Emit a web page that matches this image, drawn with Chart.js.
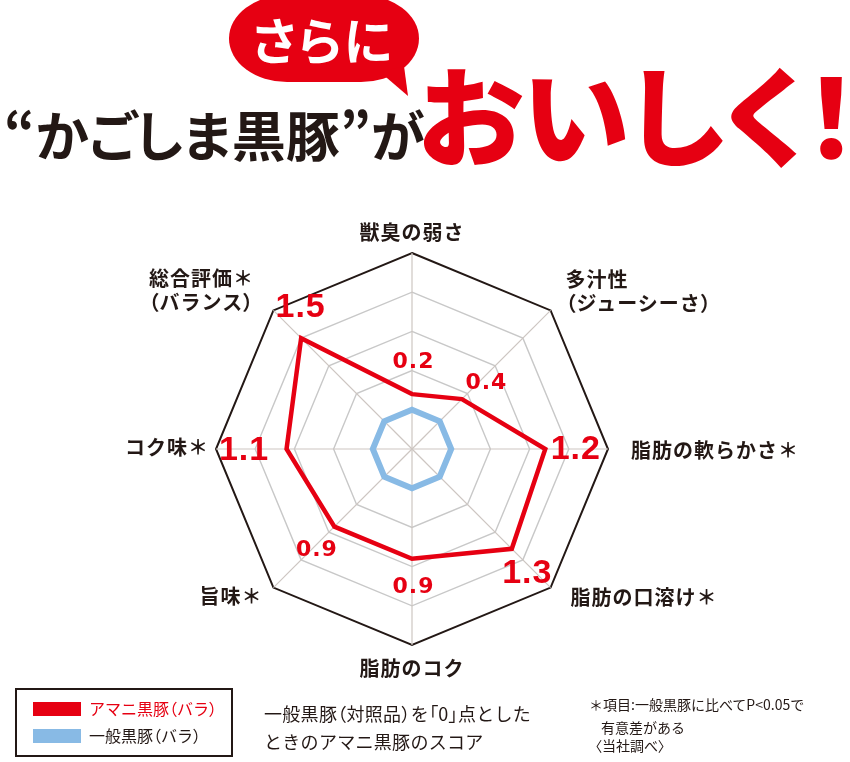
<!DOCTYPE html>
<html lang="ja"><head><meta charset="utf-8">
<script src="https://cdn.jsdelivr.net/npm/chart.js@4/dist/chart.umd.min.js"></script>
<style>
html,body{margin:0;padding:0;background:#fff;width:850px;height:762px;overflow:hidden;}
body{position:relative;font-family:'Noto Sans CJK JP','Noto Sans',sans-serif;color:#231815;}
#c{position:absolute;left:0;top:0;}
.abs{position:absolute;white-space:nowrap;line-height:1;}
.p{font-feature-settings:"palt";}
.axlab{position:absolute;white-space:nowrap;font-size:20px;font-weight:700;letter-spacing:1px;line-height:24px;color:#231815;}
</style></head><body>
<canvas id="c" width="850" height="762"></canvas>

<div class="abs" style="left:229px;top:-5px;width:190px;height:87px;background:#E60012;border-radius:64px/48px;"></div>
<div class="abs" style="left:370px;top:60px;width:45px;height:40px;background:#E60012;clip-path:polygon(10px 12px,34px 6px,38px 36px);"></div>
<div class="abs p" id="sarani" style="left:252px;top:13px;font-size:50px;font-weight:700;color:#fff;letter-spacing:2px;"></div>
<div class="abs p" id="title1" style="left:4px;top:107px;font-size:54px;font-weight:700;color:#231815;"></div>
<div class="abs p" id="title2" style="left:418px;top:57px;font-size:108px;font-weight:900;color:#E60012;"></div>

<div class="abs" style="left:15px;top:688px;width:214px;height:65px;border:2px solid #231815;"></div>
<div id="legend"></div>
<div class="abs" id="mid1" style="left:264px;top:704px;font-size:18px;letter-spacing:0.3px;"></div>
<div class="abs" id="mid2" style="left:264px;top:732px;font-size:18px;letter-spacing:0.3px;"></div>
<div class="abs" id="note1" style="left:589px;top:697px;font-size:14px;"></div>
<div class="abs" id="note2" style="left:601px;top:720px;font-size:14px;"></div>
<div class="abs" id="note3" style="left:595px;top:738px;font-size:14px;"></div>

<script>
// ---- data ----
const categories = ['獣臭の弱さ', '多汁性\n（ジューシーさ）', '脂肪の軟らかさ＊', '脂肪の口溶け＊', '脂肪のコク', '旨味＊', 'コク味＊', '総合評価＊\n（バランス）'];
const amaniValues = [0.2, 0.4, 1.2, 1.3, 0.9, 0.9, 1.1, 1.5];
const ippanValues = [0, 0, 0, 0, 0, 0, 0, 0];
const seriesNames = ['アマニ黒豚（バラ）', '一般黒豚（バラ）'];
const scaleMin = -0.5;
const scaleMax = 2.0;
const scaleStep = 0.5;

// ---- texts ----
const titleBubble = 'さらに';
const titleMain = '“かごしま黒豚”が';
const titleAccent = 'おいしく！';
const captionLines = ['一般黒豚（対照品）を「0」点とした', 'ときのアマニ黒豚のスコア'];
const noteLines = ['＊項目:一般黒豚に比べてP<0.05で', '有意差がある', '〈当社調べ〉'];

// ---- styling / layout ----
const RED = '#E60012';
const BLUE = '#88BAE5';
const axisLabelPlace = [
  {dx: 0, dy: -21, align: 'center'},
  {dx: 15, dy: -19, align: 'left'},
  {dx: 23, dy: 1, align: 'left'},
  {dx: 20, dy: 9, align: 'left'},
  {dx: 0, dy: 23, align: 'center'},
  {dx: -11, dy: 8, align: 'right'},
  {dx: -7, dy: -2, align: 'right'},
  {dx: -72, dy: -20, align: 'center'}
];
const valueLabelShift = [[1, -34], [24, -18], [30, -2], [15, 22], [1, 26], [-18, 21], [-43, -1], [-1, -33]];

function wrapParens(s) {
  return s.replace(/([（）「」〈〉“”])/g, '<span class="p">$1</span>');
}

document.getElementById('sarani').textContent = titleBubble;
document.getElementById('title1').textContent = titleMain;
document.getElementById('title2').textContent = titleAccent;
document.getElementById('mid1').innerHTML = wrapParens(captionLines[0]);
document.getElementById('mid2').innerHTML = wrapParens(captionLines[1]);
document.getElementById('note1').innerHTML = wrapParens(noteLines[0]);
document.getElementById('note2').innerHTML = wrapParens(noteLines[1]);
document.getElementById('note3').innerHTML = wrapParens(noteLines[2]);

// legend (HTML, built from series)
(function () {
  const lg = document.getElementById('legend');
  const cols = [RED, BLUE];
  const txtCols = [RED, '#231815'];
  seriesNames.forEach((n, i) => {
    const sw = document.createElement('div');
    sw.className = 'abs';
    sw.style.cssText = `left:33px;top:${702 + i * 27}px;width:48px;height:14px;background:${cols[i]};`;
    lg.appendChild(sw);
    const t = document.createElement('div');
    t.className = 'abs';
    t.style.cssText = `left:89px;top:${700 + i * 27}px;font-size:16px;color:${txtCols[i]};`;
    t.innerHTML = wrapParens(n);
    lg.appendChild(t);
  });
})();

const axisLabelPlugin = {
  id: 'axisLabels',
  afterDraw(chart) {
    const r = chart.scales.r;
    const R = r.drawingArea;
    categories.forEach((cat, i) => {
      const p = r.getPointPosition(i, R);
      const pl = axisLabelPlace[i];
      let el = document.getElementById('ax' + i);
      if (!el) {
        el = document.createElement('div');
        el.id = 'ax' + i;
        el.className = 'axlab';
        el.innerHTML = cat.split('\n').map(wrapParens).join('<br>');
        document.body.appendChild(el);
      }
      el.style.left = (p.x + pl.dx) + 'px';
      el.style.top = (p.y + pl.dy) + 'px';
      el.style.textAlign = pl.align;
      const tx = pl.align === 'left' ? '0' : (pl.align === 'right' ? '-100%' : '-50%');
      el.style.transform = `translate(${tx},-50%)`;
    });
  }
};

const valueLabelPlugin = {
  id: 'valueLabels',
  afterDatasetsDraw(chart) {
    const r = chart.scales.r;
    const ctx = chart.ctx;
    ctx.save();
    ctx.fillStyle = RED;
    ctx.textAlign = 'left';
    ctx.textBaseline = 'alphabetic';
    amaniValues.forEach((v, i) => {
      const p = r.getPointPositionForValue(i, v);
      const big = v >= 1;
      const size = big ? 34 : 22;
      const ls = big ? 1 : 1;
      ctx.font = big ? `bold ${size}px "Liberation Sans", Arial, sans-serif`
                     : `bold ${size}px "DejaVu Sans", "Liberation Sans", sans-serif`;
      ctx.letterSpacing = ls + 'px';
      const txt = v.toFixed(1);
      const w = ctx.measureText(txt).width - ls;
      const cx = p.x + valueLabelShift[i][0];
      const cy = p.y + valueLabelShift[i][1];
      ctx.fillText(txt, cx - w / 2, cy + size * (big ? 0.358 : 0.364));
    });
    ctx.restore();
  }
};

new Chart(document.getElementById('c'), {
  type: 'radar',
  data: {
    labels: categories,
    datasets: [
      {label: seriesNames[0], data: amaniValues, borderColor: RED, backgroundColor: 'transparent', borderWidth: 4.5, fill: false, pointRadius: 0, borderJoinStyle: 'miter', tension: 0},
      {label: seriesNames[1], data: ippanValues, borderColor: BLUE, backgroundColor: 'transparent', borderWidth: 6, fill: false, pointRadius: 0, borderJoinStyle: 'miter', tension: 0}
    ]
  },
  options: {
    responsive: false,
    animation: false,
    layout: {padding: {left: 216, right: 242, top: 253, bottom: 117}},
    plugins: {legend: {display: false}, tooltip: {enabled: false}},
    scales: {
      r: {
        min: scaleMin,
        max: scaleMax,
        beginAtZero: false,
        ticks: {display: false, stepSize: scaleStep},
        pointLabels: {display: false},
        grid: {
          color: c => (c.tick && c.tick.value === scaleMax) ? '#231815' : '#c8c8c8',
          lineWidth: c => (c.tick && c.tick.value === scaleMax) ? 2 : 1.4
        },
        angleLines: {color: '#cdc6c2', lineWidth: 1.2}
      }
    }
  },
  plugins: [axisLabelPlugin, valueLabelPlugin]
});
</script>
</body></html>
